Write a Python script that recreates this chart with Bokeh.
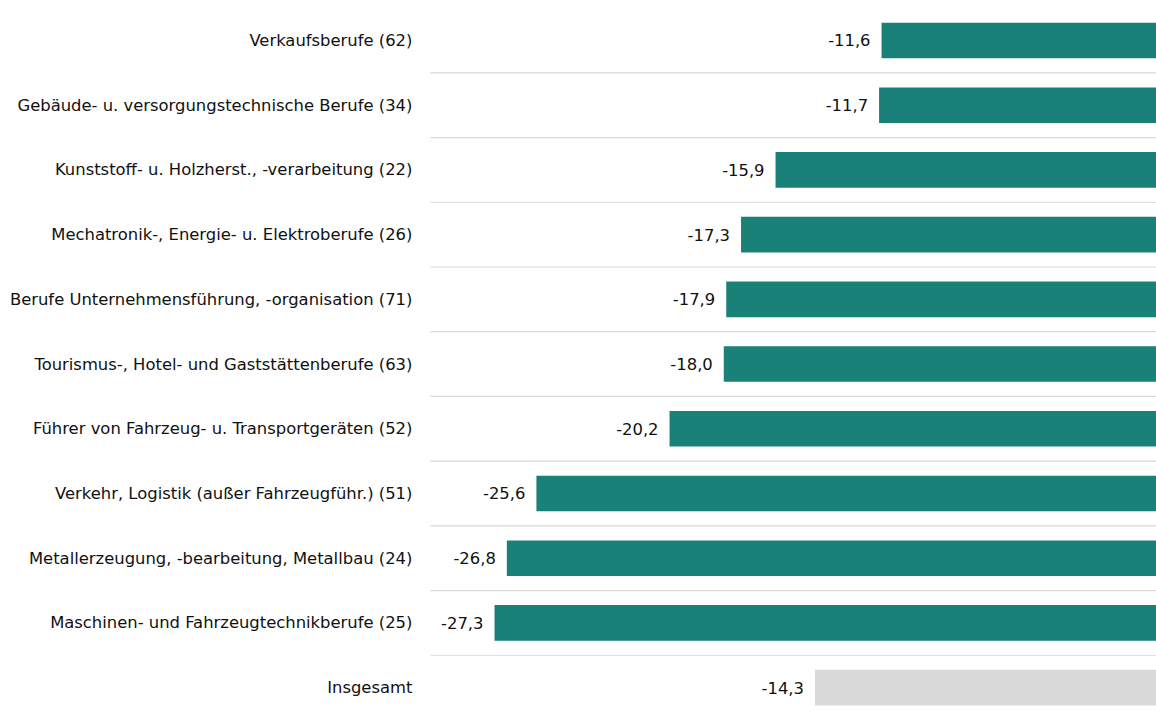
from bokeh.plotting import figure
from bokeh.models import Range1d, ColumnDataSource
from bokeh.core.properties import value
from bokeh.embed import file_html
from bokeh.resources import INLINE

categories = [
    "Verkaufsberufe (62)",
    "Gebäude- u. versorgungstechnische Berufe (34)",
    "Kunststoff- u. Holzherst., -verarbeitung (22)",
    "Mechatronik-, Energie- u. Elektroberufe (26)",
    "Berufe Unternehmensführung, -organisation (71)",
    "Tourismus-, Hotel- und Gaststättenberufe (63)",
    "Führer von Fahrzeug- u. Transportgeräten (52)",
    "Verkehr, Logistik (außer Fahrzeugführ.) (51)",
    "Metallerzeugung, -bearbeitung, Metallbau (24)",
    "Maschinen- und Fahrzeugtechnikberufe (25)",
    "Insgesamt",
]
values = [-11.6, -11.7, -15.9, -17.3, -17.9, -18.0, -20.2, -25.6, -26.8, -27.3, -14.3]

TEAL = "#1a8179"
GREY = "#d9d9d9"
FONT = "DejaVu Sans"

n = len(categories)
ypos = list(range(n))
colors = [TEAL] * (n - 1) + [GREY]
labels = [f"{v:.1f}".replace(".", ",") for v in values]

src = ColumnDataSource(dict(y=ypos, v=values, c=colors, cat=categories, lab=labels))

p = figure(width=1156, height=713, output_backend="svg", toolbar_location=None,
           x_range=Range1d(-47.34, -0.446), y_range=Range1d(10.40, -0.618),
           min_border=0, outline_line_color=None)
p.axis.visible = False
p.grid.visible = False
p.background_fill_color = "white"
p.border_fill_color = "white"

# separators between rows
sep_y = [i + 0.5 for i in range(n - 1)]
p.segment(x0=[-29.9] * len(sep_y), x1=[0] * len(sep_y), y0=sep_y, y1=sep_y,
          line_color="#d9d9d9", line_width=1.2)

p.hbar(y="y", left="v", right=0, height=0.55, fill_color="c", line_color=None, source=src)

p.text(x="v", y="y", text="lab", source=src, x_offset=-11,
       text_align="right", text_baseline="middle",
       text_font=value(FONT), text_font_size="16.4px", text_color="#111111")

p.text(x=-30.63, y="y", text="cat", source=src,
       text_align="right", text_baseline="middle",
       text_font=value(FONT), text_font_size="16.4px", text_color="#111111")

open("out.html", "w").write(file_html(p, INLINE))
